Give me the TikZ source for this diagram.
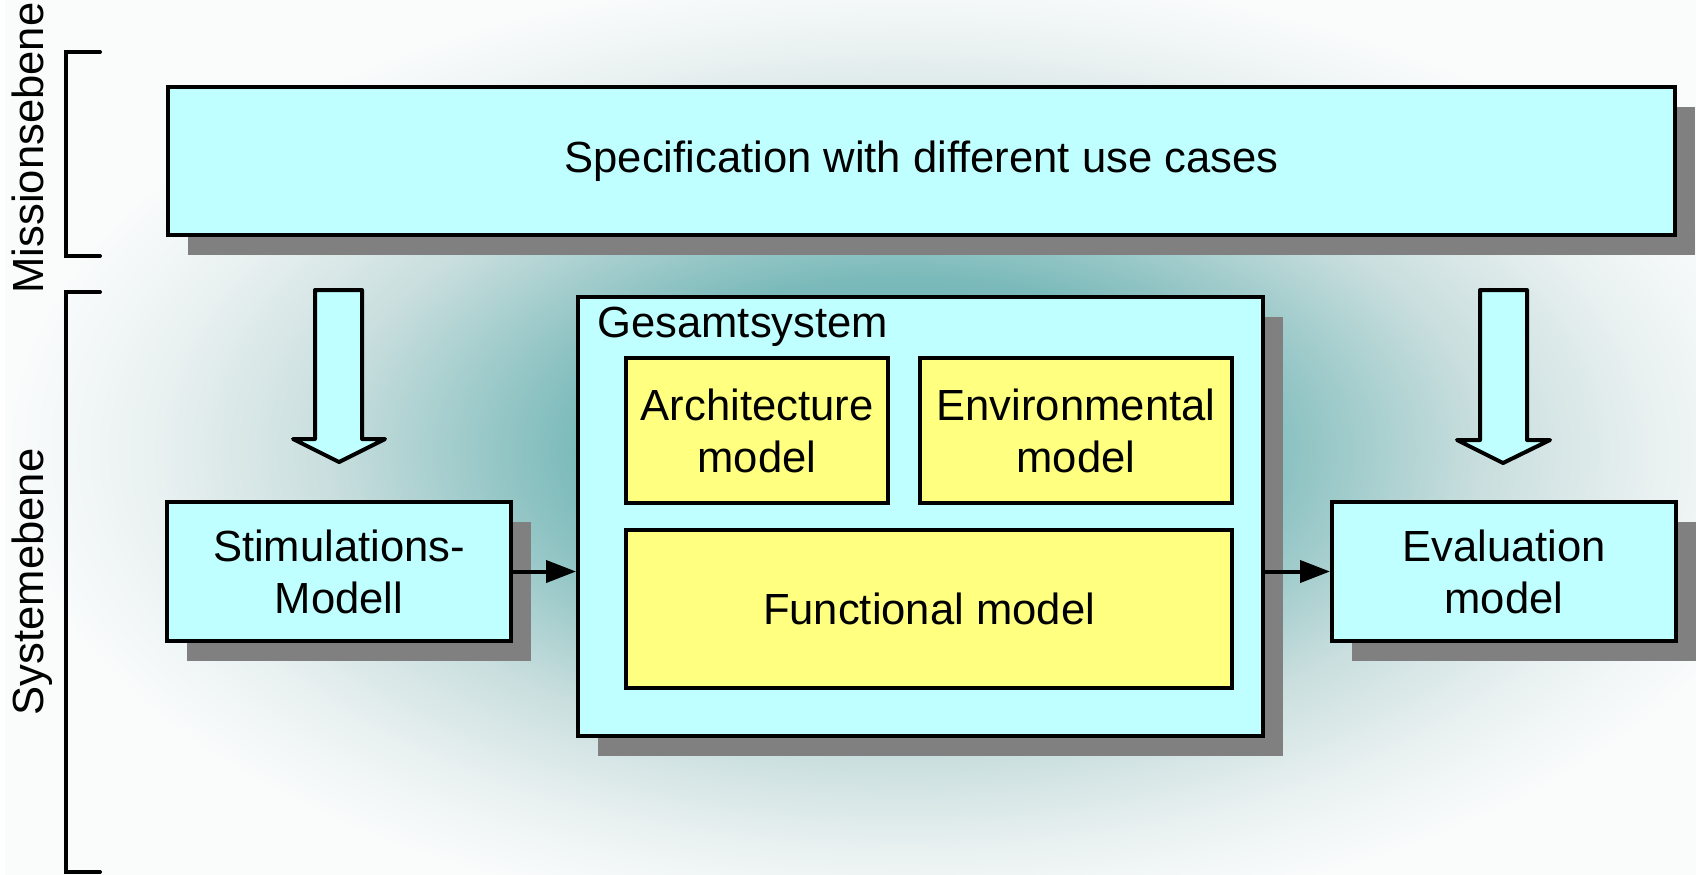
\documentclass[tikz,border=0pt]{standalone}
\usepackage{fontspec}
\setmainfont{Liberation Sans}
\usetikzlibrary{arrows.meta,shadows}

\definecolor{boxcyan}{HTML}{C0FFFF}
\definecolor{boxyellow}{HTML}{FFFF80}
\definecolor{shadowgray}{HTML}{808080}
\definecolor{glowA}{HTML}{5FA6A6}
\definecolor{glowB}{HTML}{7BBABA}
\definecolor{glowC}{HTML}{C9DEDE}
\definecolor{glowD}{HTML}{EAF1F1}
\definecolor{glowE}{HTML}{FAFCFC}

\pgfdeclareradialshading{glow}{\pgfpoint{0bp}{0bp}}{color(0bp)=(glowA); color(9bp)=(glowB); color(16bp)=(glowC); color(21bp)=(glowD); color(25bp)=(glowE); color(50bp)=(glowE)}

\def\labelfont{\fontsize{21.8pt}{26pt}\selectfont}

\begin{document}
\begin{tikzpicture}[x=0.5pt, y=-0.5pt,
    every node/.style={font=\labelfont, inner sep=0pt},
    cyanbox/.style={draw, line width=2pt, fill=boxcyan, align=center,
      drop shadow={shadow xshift=10pt, shadow yshift=-10pt, fill=shadowgray, opacity=1}},
    yellowbox/.style={draw, line width=2pt, fill=boxyellow, align=center},
    conn/.style={line width=2pt, -{Triangle[length=15pt, width=11pt]}},
    hollow/.style={draw, line width=2pt, fill=boxcyan, line join=round},
    bracket/.style={line width=2pt, line cap=round}]
  \useasboundingbox (0,0) rectangle (1696,874);
  % background glow
  \begin{scope}
    \clip (0,0) rectangle (1696,874);
    \shade[shading=glow] (5,-30) rectangle (1805,930);
  \end{scope}
  % levels
  \draw[bracket] (100,52) -- (66,52) -- (66,256) -- (100,256);
  \draw[bracket] (100,292) -- (66,292) -- (66,872) -- (100,872);
  \node[anchor=base, rotate=90] (mission) at (43,148) {Missionsebene};
  \node[anchor=base, rotate=90] (system) at (43,582) {Systemebene};
  % hollow arrows
  \draw[hollow] (315,290) -- (362,290) -- (362,439) -- (385,439) -- (339,462) -- (293,439) -- (315,439) -- cycle;
  \draw[hollow] (1480,290) -- (1527,290) -- (1527,440) -- (1550,440) -- (1503,463) -- (1457,440) -- (1480,440) -- cycle;
  % boxes
  \node[cyanbox, minimum width=753.5pt, minimum height=74pt] (spec) at (921.5,161) {Specification with different use cases};
  \node[cyanbox, minimum width=172pt, minimum height=69.5pt] (stim) at (339,571.5) {Stimulations-\\Modell};
  \node[cyanbox, minimum width=172pt, minimum height=69.5pt] (eval) at (1504,571.5) {Evaluation\\model};
  \node[cyanbox, minimum width=342.5pt, minimum height=219.5pt] (gesamt) at (920.5,516.5) {};
  \node[anchor=base west] (gesamtlabel) at (597,337) {Gesamtsystem};
  \node[yellowbox, minimum width=131pt, minimum height=72.5pt] (arch) at (757,430.5) {Architecture\\model};
  \node[yellowbox, minimum width=156pt, minimum height=72.5pt] (env) at (1076,430.5) {Environmental\\model};
  \node[yellowbox, minimum width=303pt, minimum height=79pt] (func) at (929,609) {Functional model};
  % connectors
  \draw[conn] (stim.east) -- (stim.east -| gesamt.west);
  \draw[conn] (gesamt.east |- eval.west) -- (eval.west);
\end{tikzpicture}
\end{document}
